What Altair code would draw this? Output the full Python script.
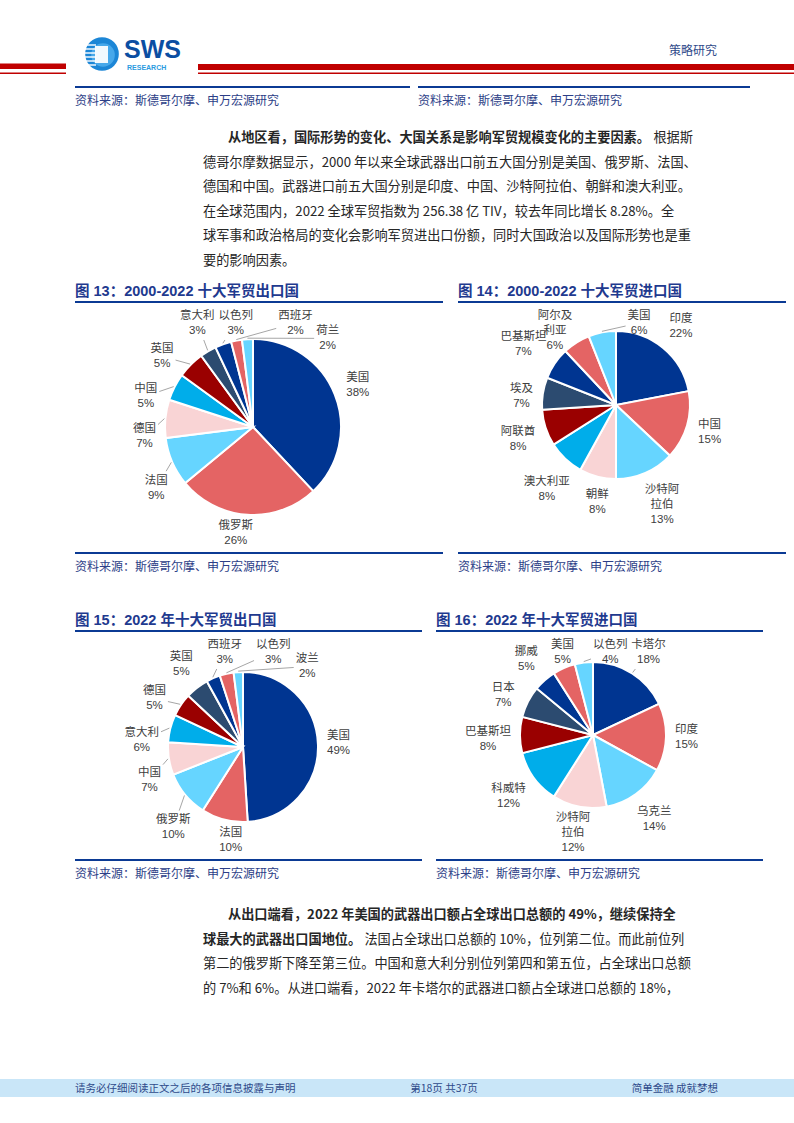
import altair as alt
import pandas as pd

# ---------------- data ----------------
P13_NAMES = ["美国", "俄罗斯", "法国", "德国", "中国", "英国", "意大利", "以色列", "西班牙", "荷兰"]
P13_VALS = [38, 26, 9, 7, 5, 5, 3, 3, 2, 2]

P14_NAMES = ["印度", "中国", "沙特阿拉伯", "朝鲜", "澳大利亚", "阿联酋", "埃及", "巴基斯坦", "阿尔及利亚", "美国"]
P14_VALS = [22, 15, 13, 8, 8, 8, 7, 7, 6, 6]

P15_NAMES = ["美国", "法国", "俄罗斯", "中国", "意大利", "德国", "英国", "西班牙", "以色列", "波兰"]
P15_VALS = [49, 10, 10, 7, 6, 5, 5, 3, 3, 2]

P16_NAMES = ["卡塔尔", "印度", "乌克兰", "沙特阿拉伯", "科威特", "巴基斯坦", "日本", "挪威", "美国", "以色列"]
P16_VALS = [18, 15, 14, 12, 12, 8, 7, 5, 5, 4]

TITLES = ["图 13：2000-2022 十大军贸出口国", "图 14：2000-2022 十大军贸进口国",
          "图 15：2022 年十大军贸出口国", "图 16：2022 年十大军贸进口国"]
SOURCE = "资料来源：斯德哥尔摩、申万宏源研究"

PARA1_BOLD = "从地区看，国际形势的变化、大国关系是影响军贸规模变化的主要因素。"
PARA1_TAIL = "根据斯"
PARA1_LINES = [
    "德哥尔摩数据显示，2000 年以来全球武器出口前五大国分别是美国、俄罗斯、法国、",
    "德国和中国。武器进口前五大国分别是印度、中国、沙特阿拉伯、朝鲜和澳大利亚。",
    "在全球范围内，2022 全球军贸指数为 256.38 亿 TIV，较去年同比增长 8.28%。全",
    "球军事和政治格局的变化会影响军贸进出口份额，同时大国政治以及国际形势也是重",
    "要的影响因素。",
]
PARA2_BOLD1 = "从出口端看，2022 年美国的武器出口额占全球出口总额的 49%，继续保持全"
PARA2_BOLD2 = "球最大的武器出口国地位。"
PARA2_TAIL2 = "法国占全球出口总额的 10%，位列第二位。而此前位列"
PARA2_LINES = [
    "第二的俄罗斯下降至第三位。中国和意大利分别位列第四和第五位，占全球出口总额",
    "的 7%和 6%。从进口端看，2022 年卡塔尔的武器进口额占全球进口总额的 18%，",
]

PALETTE = ["#003591", "#E46464", "#66D5FF", "#F9D4D5", "#00ADEA", "#9A0000", "#2C4B70"]

CJK = "Noto Sans CJK SC"
LAT = "Liberation Sans, Noto Sans CJK SC"
NAVY = "#0B3A94"
TITLE_C = "#1F3A8F"
SRC_C = "#2C3E87"
BODY_C = "#262626"
FS = 13.2          # body font size
LFS = 11.5         # pie label font size
LLH = 15           # pie label line height

one = pd.DataFrame({"k": [0]})


def txt(s, x, y, size=FS, color=BODY_C, bold=False, align="left", font=CJK):
    return alt.Chart(pd.DataFrame({"t": [s]})).mark_text(
        align=align, baseline="middle", fontSize=size, font=font,
        fontWeight="bold" if bold else "normal", color=color
    ).encode(x=alt.value(x), y=alt.value(y), text="t:N")


def rule(x1, x2, y, color=NAVY, w=2.0):
    return alt.Chart(one).mark_rule(color=color, strokeWidth=w).encode(
        x=alt.value(x1), x2=alt.value(x2), y=alt.value(y))


def rect(x1, x2, y1, y2, color):
    return alt.Chart(one).mark_rect(color=color).encode(
        x=alt.value(x1), x2=alt.value(x2), y=alt.value(y1), y2=alt.value(y2))


def pie(names, vals, cx, cy, R, ymin, ymax):
    n = len(vals)
    df = pd.DataFrame({"name": names, "v": vals, "i": list(range(n)),
                       "col": [PALETTE[k % len(PALETTE)] for k in range(n)]})
    arcs = alt.Chart(df).mark_arc(outerRadius=R, stroke="white", strokeWidth=2).encode(
        theta=alt.Theta("v:Q", stack=True),
        order=alt.Order("i:Q"),
        color=alt.Color("col:N", scale=None),
        x=alt.value(cx), y=alt.value(cy))
    RL = R + 25
    D = R + 9
    D2 = R - 6
    cw = LFS
    wrapped = "(length(datum.name) >= 5)"
    srt = [alt.SortField("i")]
    lab = (alt.Chart(df)
           .transform_joinaggregate(tot="sum(v)")
           .transform_window(cum="sum(v)", sort=srt, frame=[None, 0])
           .transform_calculate(
               mid="(datum.cum - datum.v / 2) / datum.tot * 360",
               txt=f"({wrapped} ? substring(datum.name, 0, 3) + '\\n' + substring(datum.name, 3) : datum.name)"
                   " + '\\n' + format(datum.v, 'd') + '%'",
               nl=f"{wrapped} ? 3 : 2",
               w=f"max({cw} * ({wrapped} ? 3 : length(datum.name)), 23)",
               h=f"{LLH} * ({wrapped} ? 3 : 2)")
           .transform_calculate(
               ext="datum.w * abs(cos(datum.mid * PI / 180)) + datum.h * abs(sin(datum.mid * PI / 180))")
           .transform_window(pext="lag(ext)", sort=srt)
           .transform_calculate(
               g=f"datum.i == 0 ? 0 : (datum.ext + datum.pext) / 2 / {RL} * 180 / PI * 1.15")
           .transform_window(G="sum(g)", sort=srt, frame=[None, 0])
           .transform_calculate(f="datum.mid - datum.G")
           .transform_window(cmax="max(f)", sort=srt, frame=[None, 0])
           .transform_window(cmin="min(f)", sort=srt, frame=[0, None])
           .transform_calculate(la="datum.G + 0.8 * datum.cmax + 0.2 * datum.cmin")
           .transform_calculate(lr="datum.la * PI / 180", mr="datum.mid * PI / 180")
           .transform_calculate(sa="abs(sin(datum.lr))", ca="abs(cos(datum.lr))")
           .transform_calculate(B="datum.w * datum.sa + datum.h * datum.ca")
           .transform_calculate(
               r1=f"(datum.B + sqrt(max(datum.B * datum.B - datum.w * datum.w - datum.h * datum.h + 4 * {D * D}, 0))) / 2",
               r2=f"datum.ca > 0.001 ? ({D} + datum.h / 2) / datum.ca : 100000",
               r3=f"datum.sa > 0.001 ? ({D} + datum.w / 2) / datum.sa : 100000")
           .transform_calculate(
               r="min(datum.r2, datum.r3, (datum.r1 * datum.sa >= datum.w / 2 && datum.r1 * datum.ca >= datum.h / 2) ? datum.r1 : 100000)")
           .transform_calculate(
               px0="datum.r * sin(datum.lr)",
               by0=f"{cy} - datum.r * cos(datum.lr)")
           .transform_calculate(
               by=f"clamp(datum.by0, {ymin} + datum.h / 2, {ymax} - datum.h / 2)")
           .transform_calculate(
               vy=f"max(0, abs(datum.by - {cy}) - datum.h / 2)")
           .transform_calculate(
               need=f"abs(datum.by - datum.by0) > 0.01 ? datum.w / 2 + sqrt(max(0, {D2 * D2} - datum.vy * datum.vy)) : 0")
           .transform_calculate(
               bx=f"{cx} + (sin(datum.lr) >= 0 ? 1 : -1) * max(abs(datum.px0), datum.need)")
           .transform_calculate(
               lx="datum.bx",
               ly=f"datum.by - (datum.nl - 1) * {LLH} / 2",
               x1=f"{cx} + {R + 1} * sin(datum.mr)",
               y1=f"{cy} - {R + 1} * cos(datum.mr)")
           .transform_calculate(dx="datum.x1 - datum.bx", dy="datum.y1 - datum.by")
           .transform_calculate(
               t="min(abs(datum.dx) > 0.01 ? (datum.w / 2 + 2) / abs(datum.dx) : 100000,"
                 " abs(datum.dy) > 0.01 ? (datum.h / 2 + 2) / abs(datum.dy) : 100000)")
           .transform_calculate(
               x2="datum.bx + datum.t * datum.dx",
               y2="datum.by + datum.t * datum.dy",
               moved="abs(datum.la - datum.mid) > 4 || abs(datum.by - datum.by0) > 0.01"))
    texts = lab.mark_text(lineBreak="\n", align="center", baseline="middle", fontSize=LFS,
                          lineHeight=LLH, font=LAT, color="#404040").encode(
        x=alt.X("lx:Q", scale=None, axis=None),
        y=alt.Y("ly:Q", scale=None, axis=None),
        text="txt:N")
    leaders = lab.transform_filter("datum.moved && datum.t < 0.85").mark_rule(
        color="#A6A6A6", strokeWidth=1).encode(
        x=alt.X("x1:Q", scale=None, axis=None),
        y=alt.Y("y1:Q", scale=None, axis=None),
        x2="x2:Q", y2="y2:Q")
    return [arcs, leaders, texts]


layers = []

# ---------------- header ----------------
layers += [rect(0, 66, 63.5, 69, "#C00000"), rect(0, 66, 72.5, 74, "#C00000"),
           rect(198, 794, 64, 70, "#C00000"), rect(198, 794, 72.5, 74, "#C00000")]
layers.append(alt.Chart(one).mark_circle(size=1134, color="#1C86D6", opacity=1).encode(
    x=alt.value(102), y=alt.value(54)))
layers.append(alt.Chart(one).mark_circle(size=560, color="#47A8EA", opacity=1).encode(
    x=alt.value(103), y=alt.value(55)))
layers.append(rect(95, 108, 46, 63, "#F2F9FE"))
for yy in [45, 49, 53, 57, 61, 65]:
    layers.append(rule(83, 96, yy, color="white", w=1.4))
layers.append(txt("SWS", 124, 50, size=25, color="#0B4EA2", bold=True, font="Liberation Sans"))
layers.append(txt("RESEARCH", 127, 67.5, size=7, color="#2B9BE0", bold=True, font="Liberation Sans"))
layers.append(txt("策略研究", 717, 51, size=12, color="#2F4A8A", align="right"))

layers += [rule(75, 410, 87), rule(418, 750, 87)]
layers += [txt(SOURCE, 75, 101, size=12, color=SRC_C), txt(SOURCE, 418, 101, size=12, color=SRC_C)]

# ---------------- paragraph 1 ----------------
LH = 24.6
layers.append(txt(PARA1_BOLD, 228, 138, bold=True))
layers.append(txt(PARA1_TAIL, 228 + len(PARA1_BOLD) * FS + 3, 138))
for k, line in enumerate(PARA1_LINES):
    layers.append(txt(line, 203, 138 + LH * (k + 1)))

# ---------------- chart frames ----------------
TFS = 14.5
layers += [txt(TITLES[0], 75, 292, size=TFS, color=TITLE_C, bold=True, font=LAT),
           txt(TITLES[1], 458, 292, size=TFS, color=TITLE_C, bold=True, font=LAT),
           rule(75, 443, 302), rule(458, 786, 302),
           rule(75, 443, 553), rule(458, 786, 553),
           txt(SOURCE, 75, 567, size=12, color=SRC_C), txt(SOURCE, 458, 567, size=12, color=SRC_C)]
layers += [txt(TITLES[2], 75, 621, size=TFS, color=TITLE_C, bold=True, font=LAT),
           txt(TITLES[3], 436, 621, size=TFS, color=TITLE_C, bold=True, font=LAT),
           rule(75, 422, 631), rule(436, 763, 631),
           rule(75, 422, 860), rule(436, 763, 860),
           txt(SOURCE, 75, 874, size=12, color=SRC_C), txt(SOURCE, 436, 874, size=12, color=SRC_C)]

# ---------------- pies ----------------
layers += pie(P13_NAMES, P13_VALS, 253, 427, 88, 308, 548)
layers += pie(P14_NAMES, P14_VALS, 616, 405, 74, 308, 548)
layers += pie(P15_NAMES, P15_VALS, 243, 747, 75, 637, 855)
layers += pie(P16_NAMES, P16_VALS, 593, 735, 73, 637, 855)

# ---------------- paragraph 2 ----------------
layers.append(txt(PARA2_BOLD1, 228, 915, bold=True))
layers.append(txt(PARA2_BOLD2, 203, 915 + LH, bold=True))
layers.append(txt(PARA2_TAIL2, 203 + len(PARA2_BOLD2) * FS + 3, 915 + LH))
for k, line in enumerate(PARA2_LINES):
    layers.append(txt(line, 203, 915 + LH * (k + 2)))

# ---------------- footer ----------------
layers.append(rect(0, 794, 1079, 1097, "#C9E6F8"))
layers.append(txt("请务必仔细阅读正文之后的各项信息披露与声明", 75, 1089, size=10.5, color="#2F4A8A"))
layers.append(txt("第18页 共37页", 444, 1089, size=10.5, color="#2F4A8A", align="center"))
layers.append(txt("简单金融 成就梦想", 718, 1089, size=10.5, color="#2F4A8A", align="right"))

chart = alt.layer(*layers).properties(
    width=794, height=1123, padding=0, autosize="none", background="white"
).configure_view(stroke=None)

chart.save("out.html", embed_options={"renderer": "svg", "actions": False})
